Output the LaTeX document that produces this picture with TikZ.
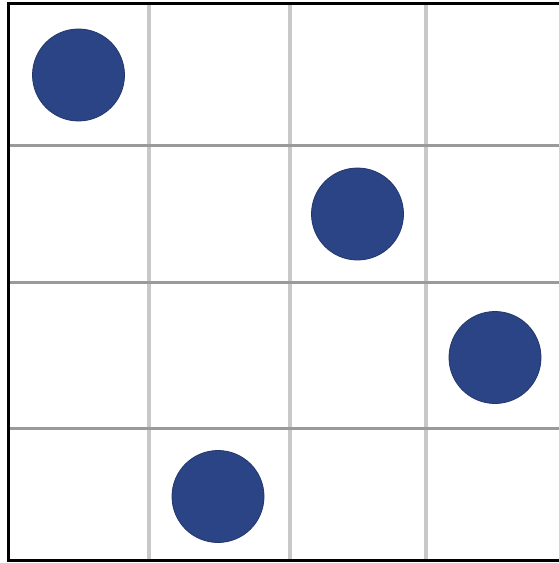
\documentclass[tikz,border=0pt]{standalone}
\definecolor{dotblue}{HTML}{2B4486}
\definecolor{vgrey}{HTML}{C8C8C8}
\definecolor{hgrey}{HTML}{9A9A9A}
\tikzset{
  dot/.style={circle, fill=dotblue, draw=dotblue!80!black, line width=0.6pt, minimum size=92*0.75pt, inner sep=0pt},
  vline/.style={draw=vgrey, line width=4*0.75pt},
  hline/.style={draw=hgrey, line width=3*0.75pt},
  frame/.style={draw=black, line width=3*0.75pt}
}
\begin{document}
\begin{tikzpicture}[x=0.75pt,y=-0.75pt]
\useasboundingbox[fill=white] (0,0) rectangle (558,563);
% vertical grid lines
\foreach \x in {149,290,426} \draw[vline] (\x,3) -- (\x,561);
% horizontal grid lines
\foreach \y in {145.5,282,428.5} \draw[hline] (8,\y) -- (560,\y);
% frame (right side runs off the picture)
\draw[frame] (562,3.5) -- (8,3.5) -- (8,560.5) -- (562,560.5);
% dots
\node[dot] (d1) at (78.5,75) {};
\node[dot] (d2) at (357.5,214) {};
\node[dot] (d3) at (495,357.5) {};
\node[dot] (d4) at (218,496.5) {};
\end{tikzpicture}
\end{document}
